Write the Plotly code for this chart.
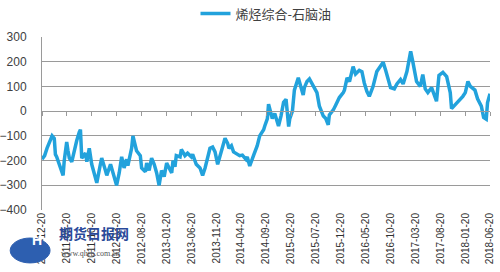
import plotly.graph_objects as go

series_name = "烯烃综合-石脑油"

dates = [
    "2010-12-20", "2011-01-05", "2011-01-20", "2011-02-05", "2011-02-20", "2011-03-05", "2011-03-12",
    "2011-03-20", "2011-04-05", "2011-04-28", "2011-05-05", "2011-05-20", "2011-05-28", "2011-06-05",
    "2011-06-20", "2011-07-12", "2011-07-20", "2011-08-05", "2011-08-12", "2011-08-20", "2011-09-12",
    "2011-09-20", "2011-10-05", "2011-10-20", "2011-11-12", "2011-11-20", "2011-12-12", "2011-12-20",
    "2012-01-12", "2012-01-20", "2012-02-12", "2012-02-28", "2012-03-12", "2012-03-20", "2012-04-05",
    "2012-04-20", "2012-05-05", "2012-05-20", "2012-05-28", "2012-06-20", "2012-06-28", "2012-07-12",
    "2012-07-20", "2012-08-12", "2012-08-20", "2012-09-12", "2012-09-20", "2012-10-05", "2012-10-20",
    "2012-11-05", "2012-11-20", "2012-12-05", "2012-12-20", "2013-01-05", "2013-01-20", "2013-02-12",
    "2013-02-20", "2013-02-28", "2013-03-12", "2013-03-20", "2013-04-12", "2013-04-20", "2013-05-12",
    "2013-05-28", "2013-06-20", "2013-06-28", "2013-07-20", "2013-08-12", "2013-08-28", "2013-09-12",
    "2013-09-28", "2013-10-12", "2013-10-28", "2013-11-12", "2013-11-28", "2013-12-12", "2013-12-28",
    "2014-01-12", "2014-01-28", "2014-02-05", "2014-02-20", "2014-03-05", "2014-03-28", "2014-04-12",
    "2014-04-28", "2014-05-20", "2014-05-28", "2014-06-12", "2014-07-05", "2014-07-28", "2014-08-12",
    "2014-09-05", "2014-09-12", "2014-09-28", "2014-10-05", "2014-10-28", "2014-11-12", "2014-12-05",
    "2014-12-20", "2015-01-05", "2015-01-20", "2015-02-05", "2015-02-12", "2015-02-28", "2015-03-12",
    "2015-04-05", "2015-04-20", "2015-05-05", "2015-05-12", "2015-05-28", "2015-06-12", "2015-07-05",
    "2015-07-28", "2015-08-12", "2015-09-05", "2015-09-20", "2015-10-05", "2015-10-12", "2015-11-05",
    "2015-11-20", "2015-12-12", "2016-01-05", "2016-01-12", "2016-01-28", "2016-02-12", "2016-03-05",
    "2016-03-20", "2016-04-12", "2016-04-28", "2016-05-12", "2016-05-28", "2016-06-12", "2016-07-05",
    "2016-07-28", "2016-08-20", "2016-09-05", "2016-09-20", "2016-10-05", "2016-10-20", "2016-11-12",
    "2016-11-28", "2016-12-20", "2017-01-05", "2017-01-28", "2017-02-12", "2017-02-20", "2017-03-05",
    "2017-03-20", "2017-03-28", "2017-04-20", "2017-05-05", "2017-05-20", "2017-06-05", "2017-06-28",
    "2017-07-12", "2017-07-28", "2017-08-12", "2017-08-28", "2017-09-05", "2017-09-28", "2017-10-05",
    "2017-10-20", "2017-10-28", "2017-11-12", "2017-11-28", "2017-12-20", "2018-01-05", "2018-01-20",
    "2018-02-05", "2018-02-20", "2018-02-28", "2018-03-20", "2018-04-05", "2018-04-28", "2018-05-12",
    "2018-05-28", "2018-06-05", "2018-06-20",
]

values = [
    -195, -180, -150, -120, -100, -110, -175,
    -185, -220, -260, -200, -125, -160, -190,
    -205, -137, -120, -85, -75, -190, -170,
    -205, -150, -215, -270, -290, -215, -190,
    -240, -260, -215, -250, -285, -300, -250,
    -185, -230, -195, -220, -150, -100, -140,
    -160, -180, -230, -245, -210, -240, -190,
    -215, -250, -300, -240, -265, -210, -240,
    -250, -200, -225, -180, -185, -155, -180,
    -170, -185, -175, -215, -230, -260, -230,
    -190, -150, -145, -165, -215, -175, -145,
    -110, -130, -150, -140, -165, -175, -180,
    -178, -195, -185, -222, -180, -140, -100,
    -75, -60, -30, 28, -30, -10, -60,
    -20, 36, 48, -62, -30, 0, 85,
    135, 100, 65, 95, 120, 130, 100,
    75, 20, -20, -30, -55, -15, 5,
    25, 55, 75, 85, 135, 120, 180,
    150, 165, 160, 115, 80, 60, 100,
    160, 180, 198, 165, 130, 95, 90,
    110, 128, 110, 160, 215, 242, 200,
    150, 120, 100, 148, 90, 75, 95,
    70, 40, 145, 155, 157, 140, 120,
    75, 10, 20, 35, 45, 60, 75,
    120, 100, 95, 85, 50, 20, -25,
    -32, 35, 70,
]

tick_dates = [
    "2010-12-20", "2011-05-20", "2011-10-20", "2012-03-20", "2012-08-20", "2013-01-20",
    "2013-06-20", "2013-11-20", "2014-04-20", "2014-09-20", "2015-02-20", "2015-07-20",
    "2015-12-20", "2016-05-20", "2016-10-20", "2017-03-20", "2017-08-20", "2018-01-20",
    "2018-06-20",
]

y_ticks = [300, 200, 100, 0, -100, -200, -300, -400]

fig = go.Figure()
fig.add_trace(go.Scatter(
    x=dates, y=values, mode="lines", name=series_name,
    line=dict(color="#22a2dc", width=3.5),
    xaxis="x", yaxis="y",
))
fig.add_trace(go.Scatter(
    x=[dates[0], dates[-1]], y=[0, 0], mode="lines", showlegend=False,
    line=dict(width=0), hoverinfo="skip", xaxis="x2", yaxis="y",
))

gray = "#9a9a9a"
fig.update_layout(
    width=500, height=272,
    margin=dict(l=42, r=10, t=37, b=62, autoexpand=False),
    paper_bgcolor="white", plot_bgcolor="white",
    font=dict(family="Liberation Sans, Arial, sans-serif", color="#404040"),
    showlegend=True,
    legend=dict(
        orientation="h", x=0.5, xanchor="center", y=1.135, yanchor="middle",
        font=dict(family="Noto Sans CJK SC", size=13, color="#404040"),
        itemwidth=30,
    ),
    xaxis=dict(
        type="date", range=["2010-12-20", "2018-06-20"],
        tickvals=tick_dates, ticktext=tick_dates, tickangle=-90,
        tickfont=dict(size=10, color="#303030", family="Liberation Sans"),
        showgrid=False, showline=False, ticks="", zeroline=False,
    ),
    xaxis2=dict(
        type="date", overlaying="x", matches="x", anchor="free", position=4 / 7,
        tickvals=tick_dates, showticklabels=False, ticks="outside", ticklen=4,
        tickcolor=gray, showline=True, linecolor=gray, linewidth=1, showgrid=False,
        zeroline=False,
    ),
    yaxis=dict(
        range=[-400, 300], tickvals=y_ticks, showgrid=True, gridcolor=gray, gridwidth=1,
        zeroline=False, showline=True, linecolor=gray, linewidth=1,
        tickfont=dict(size=12, color="#404040"), ticks="", ticklabelstandoff=12,
    ),
)

# watermark-like logo
fig.add_shape(type="circle", xref="paper", yref="paper",
              x0=-0.071, x1=0.018, y0=-0.306, y1=-0.162,
              fillcolor="#2d5fb0", line=dict(color="#2d5fb0", width=1), layer="above")
fig.add_annotation(xref="paper", yref="paper", x=-0.027, y=-0.234, text="<b>H</b>",
                   showarrow=False, font=dict(size=14, color="white", family="Liberation Sans"))
fig.add_annotation(xref="paper", yref="paper", x=0.033, xanchor="left", y=-0.205,
                   text="<b>期货日报网</b>", showarrow=False,
                   font=dict(size=14, color="#2a4a9a", family="Noto Sans CJK SC"))
fig.add_annotation(xref="paper", yref="paper", x=0.038, xanchor="left", y=-0.29,
                   text="www.qhrb.com.cn", showarrow=False,
                   font=dict(size=8, color="#555555", family="Liberation Serif"))

fig.write_html("out.html")
